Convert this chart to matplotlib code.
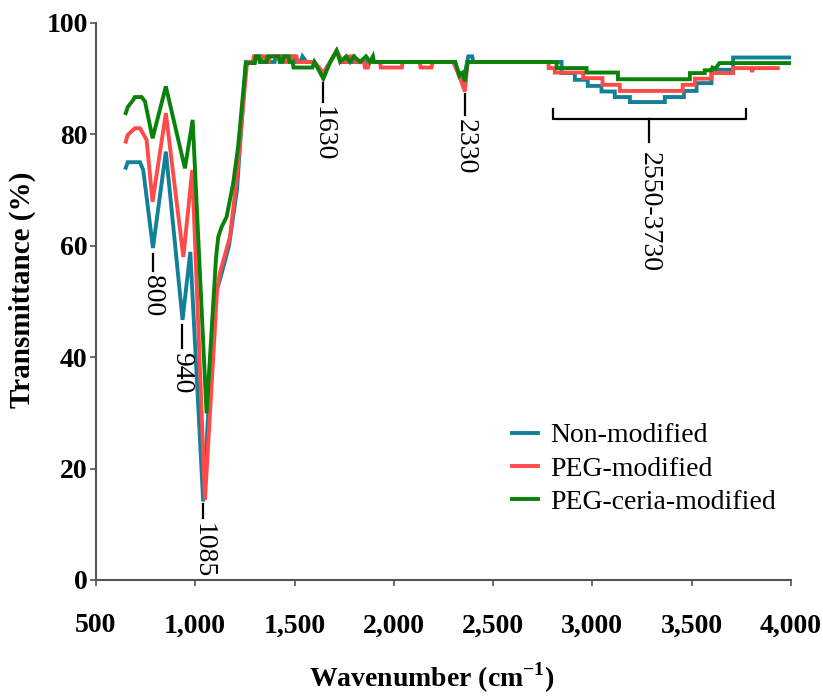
import matplotlib
matplotlib.use("Agg")
import matplotlib.pyplot as plt
from matplotlib.ticker import FuncFormatter

plt.rcParams["font.family"] = ["Liberation Serif", "DejaVu Serif"]
plt.rcParams["mathtext.fontset"] = "custom"
plt.rcParams["mathtext.rm"] = "Liberation Serif:bold"
plt.rcParams["mathtext.bf"] = "Liberation Serif:bold"

# --- data ---
blue_x = [650, 660, 722, 738, 787, 852, 936, 975, 1040, 1100, 1125, 1170, 1210, 1255,
          1300, 1305, 1330, 1335, 1400, 1405, 1500, 1505, 1530, 1540, 1560,
          1600, 1645, 1680, 1712, 1740,
          2300, 2330, 2358, 2375, 2395, 2400,
          2845, 2845, 2912, 2912, 2977, 2977, 3046, 3046, 3113, 3113, 3189, 3189,
          3365, 3365, 3461, 3461, 3525, 3525, 3600, 3600, 3709, 3709, 3995]
blue_y = [74, 75, 75, 73.6, 59.6, 76.9, 46.7, 58.9, 14.1, 51, 54, 60, 70, 93,
          93, 94, 94, 93, 93, 94, 94, 93, 93, 94, 93,
          93, 91, 93, 95, 93,
          93, 91, 91, 94, 94, 93,
          93, 91, 91, 89.8, 89.8, 88.7, 88.7, 87.7, 87.7, 86.7, 86.7, 85.8,
          85.8, 86.7, 86.7, 87.8, 87.8, 89.2, 89.2, 91.6, 91.6, 93.8, 93.8]

red_x = [650, 660, 696, 722, 755, 785, 852, 940, 985, 1049, 1110, 1124, 1175, 1208, 1259, 1265,
         1290, 1295, 1350, 1355, 1370, 1375, 1450, 1455, 1480, 1485, 1510, 1515,
         1600, 1645, 1680, 1712, 1740, 1760, 1765, 1800, 1805,
         1850, 1855, 1870, 1875, 1930, 1935, 2040, 2045, 2130, 2135, 2190, 2195,
         2300, 2335, 2358, 2372,
         2780, 2780, 2811, 2811, 2954, 2954, 3051, 3051, 3138, 3138, 3455, 3455,
         3516, 3516, 3600, 3600, 3709, 3709, 3800, 3805, 3810, 3934]
red_y = [78.7, 79.9, 81.1, 81.1, 79, 67.9, 83.8, 58, 73.6, 14.4, 52, 55.1, 61.6, 71.8, 92.2, 93,
         93, 94, 94, 93, 93, 94, 94, 93, 93, 94, 94, 93,
         93, 91, 93, 95, 93, 93, 94, 94, 93,
         93, 92, 92, 93, 93, 92, 92, 93, 93, 92, 92, 93,
         93, 90, 87.7, 93,
         93, 91.9, 91.9, 91.1, 91.1, 90.1, 90.1, 88.9, 88.9, 87.8, 87.8, 88.9,
         88.9, 90, 90, 91, 91, 91.9, 91.9, 91.2, 91.9, 91.9]

green_x = [650, 660, 688, 696, 730, 747, 785, 852, 948, 987, 1057, 1105, 1116, 1133, 1158, 1191, 1216, 1255,
           1300, 1305, 1320, 1325, 1360, 1365, 1420, 1425, 1440, 1445, 1470, 1475, 1490, 1495, 1590,
           1600, 1645, 1680, 1712, 1730, 1760, 1780, 1800, 1830, 1860, 1880, 1895, 1900,
           2310, 2330, 2345, 2358, 2372,
           2820, 2820, 2971, 2971, 3129, 3129, 3491, 3491, 3566, 3566, 3600, 3605, 3620, 3640, 4000]
green_y = [83.8, 84.9, 86.2, 86.7, 86.7, 85.9, 79.3, 88.6, 73.9, 82.6, 29.9, 58, 61.6, 63.4, 65.2, 71.2, 77.8, 92.8,
           92.8, 94, 94, 93, 93, 94, 94, 93, 93, 94, 94, 93, 93, 92, 92,
           93, 90, 93, 95, 93, 94, 93, 94, 93, 94, 93, 94, 93,
           93, 90.5, 91, 89.5, 93,
           93, 91.9, 91.9, 91.1, 91.1, 89.9, 89.9, 91, 91, 91.5, 91.5, 92, 91.8, 92.8, 92.8]

series_labels = ["Non-modified", "PEG-modified", "PEG-ceria-modified"]
series_colors = ["#13809a", "#ff4a4a", "#0a820a"]

# peak markers: (line x, line top y, line bottom y, label)
peak_marks = [(787, 58.5, 55.5, "800"),
              (932, 45.8, 41.7, "940"),
              (1040, 13.6, 11.1, "1085"),
              (1645, 89.3, 85.9, "1630"),
              (2358, 87.2, 83.5, "2330")]
band_lo, band_hi, band_mid, band_label = 2800, 3776, 3286, "2550-3730"

fig = plt.figure(figsize=(8.23, 6.96), dpi=100)
ax = fig.add_axes([0.1166, 0.1667, 0.8444, 0.8003])

for xs, ys, lab, col in zip([blue_x, red_x, green_x], [blue_y, red_y, green_y],
                            series_labels, series_colors):
    ax.plot(xs, ys, color=col, linewidth=2.8, label=lab, solid_joinstyle="miter")

for x, y0, y1, lab in peak_marks:
    ax.plot([x, x], [y0, y1], color="black", linewidth=1.6)
    ax.text(x, y1 - 0.8, lab, rotation=-90, ha="center", va="top", fontsize=20)

ax.plot([band_lo, band_lo, band_hi, band_hi], [84.5, 82.7, 82.7, 84.5], color="black", linewidth=1.6)
ax.plot([band_mid, band_mid], [82.7, 78.7], color="black", linewidth=1.6)
ax.text(band_mid, 76.8, band_label, rotation=-90, ha="center", va="top", fontsize=20)

ax.set_xlim(500, 4000)
ax.set_ylim(0, 100)
ax.set_xticks(range(500, 4001, 500))
ax.set_yticks(range(0, 101, 20))
ax.xaxis.set_major_formatter(FuncFormatter(lambda v, p: f"{v:,.0f}"))

for side in ["top", "right"]:
    ax.spines[side].set_visible(False)
for side in ["left", "bottom"]:
    ax.spines[side].set_color("#555555")
    ax.spines[side].set_linewidth(1.5)
ax.tick_params(direction="out", length=4, width=1.2, color="#555555")
ax.tick_params(axis="x", pad=20, labelsize=20)
ax.tick_params(axis="y", pad=2, labelsize=20)
for t in ax.get_xticklabels() + ax.get_yticklabels():
    t.set_fontweight("bold")

ax.set_xlabel(r"Wavenumber (cm$^{\mathbf{-1}}$)", fontsize=20, fontweight="bold")
ax.xaxis.set_label_coords(0.483, -0.145)
ax.set_ylabel("Transmittance (%)", fontsize=21, fontweight="bold")
ax.yaxis.set_label_coords(-0.086, 0.521)

ax.legend(loc="upper left", bbox_to_anchor=(0.598, 0.282), frameon=False, fontsize=20,
          handlelength=0.95, handletextpad=0.45, labelspacing=0.28, borderpad=0, borderaxespad=0)

fig.savefig("out.png", dpi=100)
